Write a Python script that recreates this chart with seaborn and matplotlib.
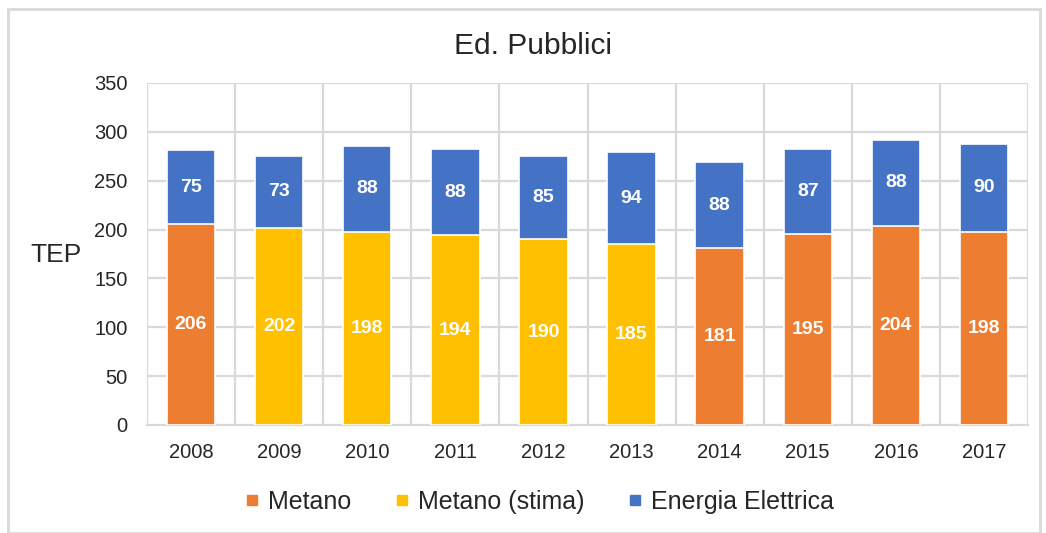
import matplotlib
matplotlib.use("Agg")
import matplotlib.pyplot as plt
import seaborn as sns
import pandas as pd
from matplotlib.patches import Rectangle
from matplotlib.lines import Line2D

years = ["2008", "2009", "2010", "2011", "2012", "2013", "2014", "2015", "2016", "2017"]
metano = [206, 202, 198, 194, 190, 185, 181, 195, 204, 198]
metano_tipo = ["Metano", "Metano (stima)", "Metano (stima)", "Metano (stima)", "Metano (stima)",
               "Metano (stima)", "Metano", "Metano", "Metano", "Metano"]
elettrica = [75, 73, 88, 88, 85, 94, 88, 87, 88, 90]

C_MET = "#ED7D31"
C_STIMA = "#FFC000"
C_EL = "#4472C4"
GRID = "#D9D9D9"

sns.set_theme(style="white")
plt.rcParams["font.family"] = ["Liberation Sans", "DejaVu Sans"]

df = pd.DataFrame({"anno": years, "metano": metano, "tipo": metano_tipo, "elettrica": elettrica})
df["totale"] = df["metano"] + df["elettrica"]

fig = plt.figure(figsize=(10.46, 5.33), dpi=100)
ax = fig.add_axes([147/1046, 1-425/533, (1028-147)/1046, (425-83)/533])

sns.barplot(data=df, x="anno", y="totale", color=C_EL, saturation=1, width=0.55, ax=ax,
            edgecolor="white", linewidth=1.2, zorder=3)
sns.barplot(data=df, x="anno", y="metano", hue="tipo", dodge=False, saturation=1,
            palette={"Metano": C_MET, "Metano (stima)": C_STIMA}, width=0.55, ax=ax,
            edgecolor="white", linewidth=1.2, zorder=3, legend=False)

for i, r in df.iterrows():
    ax.text(i, r["metano"] / 2, f"{r['metano']}", ha="center", va="center",
            color="white", fontweight="bold", fontsize=14, zorder=5)
    ax.text(i, r["metano"] + r["elettrica"] / 2, f"{r['elettrica']}", ha="center", va="center",
            color="white", fontweight="bold", fontsize=14, zorder=5)

ax.set_ylim(0, 350)
ax.set_xlim(-0.5, len(years) - 0.5)
ax.set_yticks(range(0, 351, 50))
for y in range(50, 351, 50):
    ax.axhline(y, color=GRID, lw=1.6, zorder=1)
for x in [i - 0.5 for i in range(len(years) + 1)]:
    ax.axvline(x, color=GRID, lw=1.6, zorder=1)
for s in ax.spines.values():
    s.set_visible(False)
ax.spines["bottom"].set_visible(True)
ax.spines["bottom"].set_color(GRID)
ax.spines["bottom"].set_linewidth(1.6)
ax.tick_params(axis="x", length=0, labelsize=14.5, colors="#262626", pad=13)
ax.tick_params(axis="y", length=0, labelsize=14.5, colors="#262626", pad=14)
ax.set_xlabel("")
ax.set_ylabel("")
ax.grid(False)

fig.text(56/1046, 1-255/533, "TEP", fontsize=19, color="#262626", ha="center", va="center")
fig.text(533/1046, 1-46/533, "Ed. Pubblici", fontsize=21.5, color="#262626", ha="center", va="center")

handles = [Line2D([], [], marker="s", linestyle="none", markersize=7.5, color=c)
           for c in (C_MET, C_STIMA, C_EL)]
fig.legend(handles, ["Metano", "Metano (stima)", "Energia Elettrica"], loc="center",
           bbox_to_anchor=(538/1046, 1-502/533), ncol=3, frameon=False, fontsize=18,
           handletextpad=0.25, columnspacing=1.6, handlelength=0.8)

fig.patches.append(Rectangle((8/1046, 0), (1040-8)/1046, (533-9)/533, transform=fig.transFigure,
                             fill=False, edgecolor=GRID, lw=2))

fig.savefig("out.png", dpi=100)
